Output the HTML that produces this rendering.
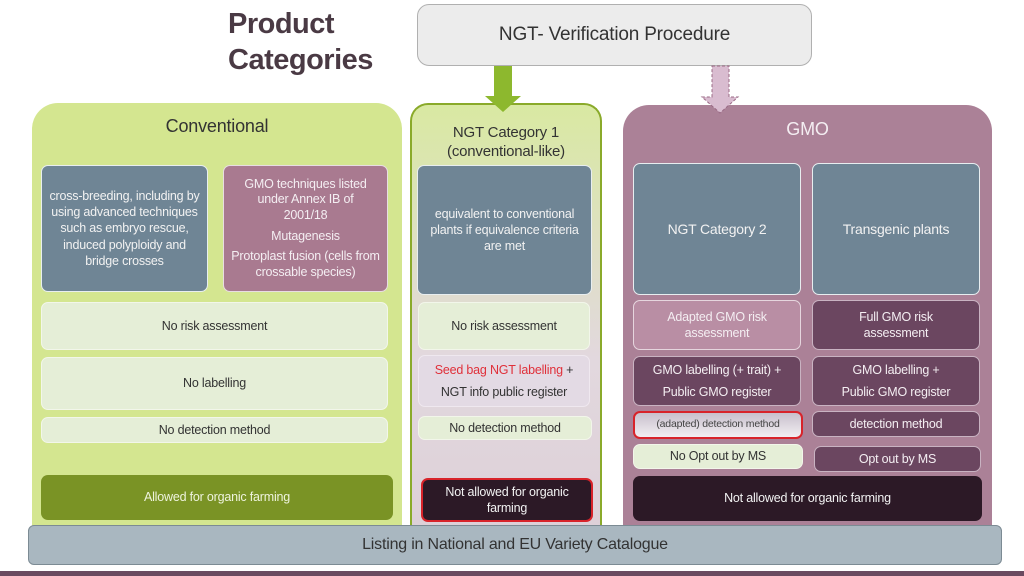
<!DOCTYPE html>
<html><head><meta charset="utf-8"><style>
body{margin:0;width:1024px;height:576px;background:#fff;position:relative;overflow:hidden;font-family:"Liberation Sans",sans-serif}
div{position:absolute;box-sizing:border-box}
.b{display:flex;flex-direction:column;align-items:center;justify-content:center;text-align:center;border-radius:7px;font-size:12.5px;line-height:1.3;letter-spacing:-0.2px}
.bg{background:#6f8595;color:#f2f2f2;border:1px solid #e8eef0}
.lg{background:#e5eed7;color:#333;border:1px solid #f2f6ea}
.dp{background:#6b4660;color:#f4eef2;border:1px solid #c9b3c2}
.dk{background:#2c1926;color:#f2f2f2}
</style></head><body>
<div style="left:228px;top:6px;font-size:29px;font-weight:bold;color:#4a3a44;line-height:36px;letter-spacing:-0.5px">Product<br>Categories</div>
<div class="b" style="left:417px;top:4px;width:395px;height:62px;background:#ececec;border:1px solid #b0b0b0;border-radius:12px;font-size:19px;color:#333">NGT- Verification Procedure</div>
<div style="left:32px;top:103px;width:370px;height:425px;background:#d4e690;border-radius:26px 26px 0 0"></div>
<div style="left:410px;top:103px;width:192px;height:425px;background:linear-gradient(#d9e9a2,#e2d8de 60%,#ddd0d8);border:2px solid #8aaa2a;border-bottom:none;border-radius:18px 18px 0 0"></div>
<div style="left:623px;top:105px;width:369px;height:423px;background:#ab8197;border-radius:26px 26px 0 0"></div>
<svg style="position:absolute;left:0;top:0" width="1024" height="576">
<polygon points="494,66 512,66 512,96 521,96 503,112 485,96 494,96" fill="#8db82e"/>
<polygon points="712,66 729,66 729,97 738,97 720,113 702,97 712,97" fill="#d9bcd0" stroke="#9a6a85" stroke-dasharray="3,2"/>
</svg>
<div class="b" style="left:32px;top:112px;width:370px;height:30px;font-size:18px;color:#333;background:none">Conventional</div>
<div class="b" style="left:410px;top:120px;width:192px;height:44px;font-size:15px;color:#333;background:none;line-height:1.3">NGT Category 1<br>(conventional-like)</div>
<div class="b" style="left:623px;top:115px;width:369px;height:30px;font-size:18px;color:#f4eef2;background:none">GMO</div>
<div class="b bg" style="left:41px;top:165px;width:167px;height:127px;padding:0 6px">cross-breeding, including by using advanced techniques such as embryo rescue, induced polyploidy and bridge crosses</div>
<div class="b" style="left:223px;top:165px;width:165px;height:127px;background:#a97a90;color:#f4eef2;border:1px solid #e8dde2;line-height:1.25;padding:0 6px"><span style="padding:0 12px">GMO techniques listed under Annex IB of 2001/18</span><span style="margin:5px 0">Mutagenesis</span><span>Protoplast fusion (cells from crossable species)</span></div>
<div class="b bg" style="left:417px;top:165px;width:175px;height:130px;padding:0 6px">equivalent to conventional plants if equivalence criteria are met</div>
<div class="b bg" style="left:633px;top:163px;width:168px;height:132px;font-size:14px">NGT Category 2</div>
<div class="b bg" style="left:812px;top:163px;width:168px;height:132px;font-size:14px">Transgenic plants</div>
<div class="b lg" style="left:41px;top:302px;width:347px;height:48px">No risk assessment</div>
<div class="b lg" style="left:41px;top:357px;width:347px;height:53px">No labelling</div>
<div class="b lg" style="left:41px;top:417px;width:347px;height:26px">No detection method</div>
<div class="b" style="left:41px;top:475px;width:352px;height:45px;background:#7a9325;color:#eef3dd">Allowed for organic farming</div>
<div class="b lg" style="left:418px;top:302px;width:172px;height:48px">No risk assessment</div>
<div class="b" style="left:418px;top:355px;width:172px;height:52px;background:#e3dae4;color:#333;border:1px solid #efe8ef"><span><span style="color:#e0303a">Seed bag NGT labelling</span> +</span><span style="margin-top:5px">NGT info public register</span></div>
<div class="b lg" style="left:418px;top:416px;width:174px;height:24px">No detection method</div>
<div class="b dk" style="left:421px;top:478px;width:172px;height:44px;border:2px solid #d8232a;padding:0 14px">Not allowed for organic farming</div>
<div class="b" style="left:633px;top:300px;width:168px;height:50px;background:#b98ea4;color:#f4eef2;border:1px solid #e6d6de;padding:0 10px">Adapted GMO risk assessment</div>
<div class="b dp" style="left:812px;top:300px;width:168px;height:50px;padding:0 30px">Full GMO risk assessment</div>
<div class="b dp" style="left:633px;top:356px;width:168px;height:50px"><span>GMO labelling (+ trait) +</span><span style="margin-top:5px">Public GMO register</span></div>
<div class="b dp" style="left:812px;top:356px;width:168px;height:50px"><span>GMO labelling +</span><span style="margin-top:5px">Public GMO register</span></div>
<div class="b" style="left:633px;top:411px;width:170px;height:28px;background:linear-gradient(#c8c0cc,#f2eef2);color:#444;border:2px solid #d8232a;font-size:10.5px">(adapted) detection method</div>
<div class="b dp" style="left:812px;top:411px;width:168px;height:26px">detection method</div>
<div class="b lg" style="left:633px;top:444px;width:170px;height:25px">No Opt out by MS</div>
<div class="b dp" style="left:814px;top:446px;width:167px;height:26px">Opt out by MS</div>
<div class="b dk" style="left:633px;top:476px;width:349px;height:45px">Not allowed for organic farming</div>
<div class="b" style="left:28px;top:525px;width:974px;height:40px;background:#a9b7c0;border:1px solid #7c8b94;border-radius:6px;font-size:16px;color:#333">Listing in National and EU Variety Catalogue</div>
<div style="left:0;top:571px;width:1024px;height:5px;background:#6a4a60"></div>
</body></html>
